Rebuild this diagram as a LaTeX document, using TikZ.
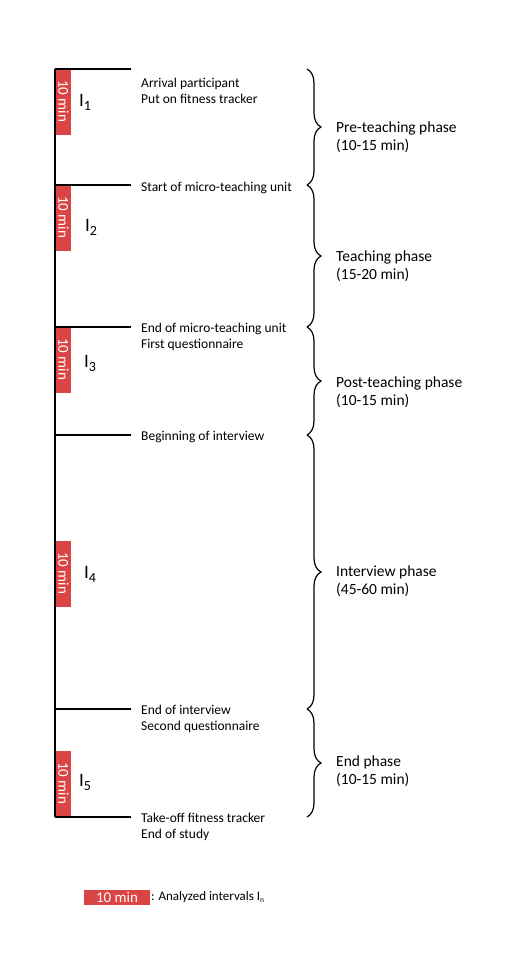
\documentclass[tikz,border=0pt]{standalone}
\usepackage{fontspec}
\setmainfont{Carlito}
\usetikzlibrary{decorations.pathreplacing}
\definecolor{ired}{RGB}{218,68,68}
\begin{document}
\begin{tikzpicture}[x=1pt,y=-1pt,
  axisline/.style={line width=1.8pt},
  tickline/.style={line width=1.6pt},
  ivbox/.style={fill=ired, draw=none},
  boxtxt/.style={text=white, rotate=-90, inner sep=0pt, font=\fontsize{15}{15}\selectfont},
  evt/.style={anchor=west, inner sep=0pt, align=left, font=\fontsize{13.5}{16}\selectfont},
  phase/.style={anchor=west, inner sep=0pt, align=left, font=\fontsize{15.5}{18}\selectfont},
  ilab/.style={anchor=west, inner sep=0pt},
  bracestyle/.style={line width=1.2pt, decorate, decoration={brace, amplitude=14pt, aspect=0.5}}]
\useasboundingbox (0,0) rectangle (511,961);
\newcommand{\ilabel}[1]{{\fontsize{19}{19}\selectfont I}\raisebox{-4pt}{\fontsize{14}{14}\selectfont #1}}
% tick coordinates
\coordinate (t0) at (55,69);  \coordinate (r0) at (131,69);
\coordinate (t1) at (55,185); \coordinate (r1) at (131,185);
\coordinate (t2) at (55,327); \coordinate (r2) at (131,327);
\coordinate (t3) at (55,435); \coordinate (r3) at (131,435);
\coordinate (t4) at (55,709); \coordinate (r4) at (131,709);
\coordinate (t5) at (55,817); \coordinate (r5) at (131,817);
% interval boxes
\fill[ivbox] (56,69) rectangle (71,135);
\fill[ivbox] (56,185) rectangle (71,251);
\fill[ivbox] (56,327) rectangle (71,393);
\fill[ivbox] (56,541) rectangle (71,607);
\fill[ivbox] (56,751) rectangle (71,817);
\node[boxtxt] (k1) at (63.5,101) {10 min};
\node[boxtxt] (k2) at (63.5,217) {10 min};
\node[boxtxt] (k3) at (63.5,359) {10 min};
\node[boxtxt] (k4) at (63.5,573) {10 min};
\node[boxtxt] (k5) at (63.5,783) {10 min};
% axis and ticks
\draw[axisline] (t0) -- (t5);
\foreach \i in {0,...,5} {\draw[tickline] (t\i) -- (r\i);}
% interval labels
\node[ilab] (i1) at (79,102) {\ilabel{1}};
\node[ilab] (i2) at (85,227) {\ilabel{2}};
\node[ilab] (i3) at (84,363) {\ilabel{3}};
\node[ilab] (i4) at (84,574) {\ilabel{4}};
\node[ilab] (i5) at (79,782) {\ilabel{5}};
% events
\node[evt] (e1) at (141,90.5) {Arrival participant\\Put on fitness tracker};
\node[evt] (e2) at (141,187.5) {Start of micro-teaching unit};
\node[evt] (e3) at (141,336.5) {End of micro-teaching unit\\First questionnaire};
\node[evt] (e4) at (141,437.5) {Beginning of interview};
\node[evt] (e5) at (141,718.5) {End of interview\\Second questionnaire};
\node[evt] (e6) at (141,826.5) {Take-off fitness tracker\\End of study};
% braces
\coordinate (b0) at (307,69);
\coordinate (b1) at (307,185);
\coordinate (b2) at (307,327);
\coordinate (b3) at (307,435);
\coordinate (b4) at (307,709);
\coordinate (b5) at (307,817);
\draw[bracestyle] (b0) -- (b1);
\draw[bracestyle] (b1) -- (b2);
\draw[bracestyle] (b2) -- (b3);
\draw[bracestyle] (b3) -- (b4);
\draw[bracestyle] (b4) -- (b5);
\node[phase] (p1) at (336,137) {Pre-teaching phase\\(10-15 min)};
\node[phase] (p2) at (336,266) {Teaching phase\\(15-20 min)};
\node[phase] (p3) at (336,392) {Post-teaching phase\\(10-15 min)};
\node[phase] (p4) at (336,581) {Interview phase\\(45-60 min)};
\node[phase] (p5) at (336,771) {End phase\\(10-15 min)};
% legend
\fill[ivbox] (84,890) rectangle (150,905);
\node[text=white, inner sep=0pt, font=\fontsize{15}{15}\selectfont] (lg) at (117,897.5) {10 min};
\node[anchor=west, inner sep=0pt, font=\fontsize{13}{14}\selectfont] (lt) at (151,897.5) {: Analyzed intervals I\raisebox{-2pt}{\fontsize{7.5}{7.5}\selectfont n}};
\end{tikzpicture}
\end{document}
